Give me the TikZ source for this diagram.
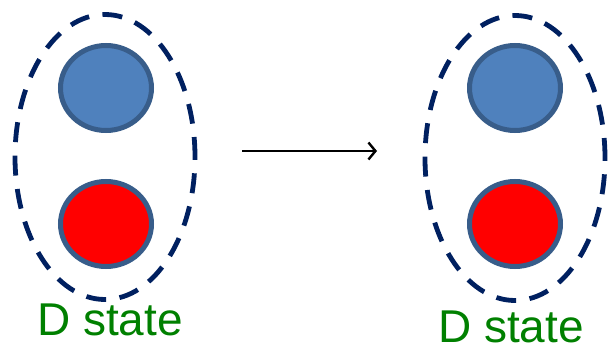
\documentclass[tikz,border=0pt]{standalone}
\usepackage{fontspec}
\setmainfont{Liberation Sans}
\usetikzlibrary{arrows.meta,shapes.geometric}
\definecolor{dnavy}{HTML}{002060}
\definecolor{ballblue}{HTML}{4F81BD}
\definecolor{balledge}{HTML}{385D8A}
\definecolor{dgreen}{HTML}{008000}

\begin{document}
\begin{tikzpicture} [x=1pt,y=-1pt,
 ball/.style={ellipse,inner sep=0pt,minimum width=91pt,minimum height=85pt,line width=5pt,draw=balledge},
 pair/.style={ellipse,inner sep=0pt,minimum width=180pt,minimum height=285pt,line width=4.8pt,draw=dnavy,dash pattern=on 20pt off 13.5pt},
 label/.style={anchor=base,text=dgreen,font=\fontsize{46}{50}\selectfont},
]
    \useasboundingbox (0,0) rectangle (611,345);
    % before
    \node[pair] (pairL) at (105,157) {};
    \node[ball,fill=ballblue] (blueL) at (106,88) {};
    \node[ball,fill=red] (redL) at (106,224) {};
    \node[label] (textL) at (110,335) {D state};
    % after
    \node[pair] (pairR) at (515,158) {};
    \node[ball,fill=ballblue] (blueR) at (515,88) {};
    \node[ball,fill=red] (redR) at (515,224) {};
    \node[label] (textR) at (511,342) {D state};
    % transition
    \coordinate (from) at (242,151);
    \coordinate (to) at (377,151);
    \draw[-{Straight Barb[length=7pt,width=17pt]},line width=2.4pt] (from) -- (to);
   \end{tikzpicture}
\end{document}
